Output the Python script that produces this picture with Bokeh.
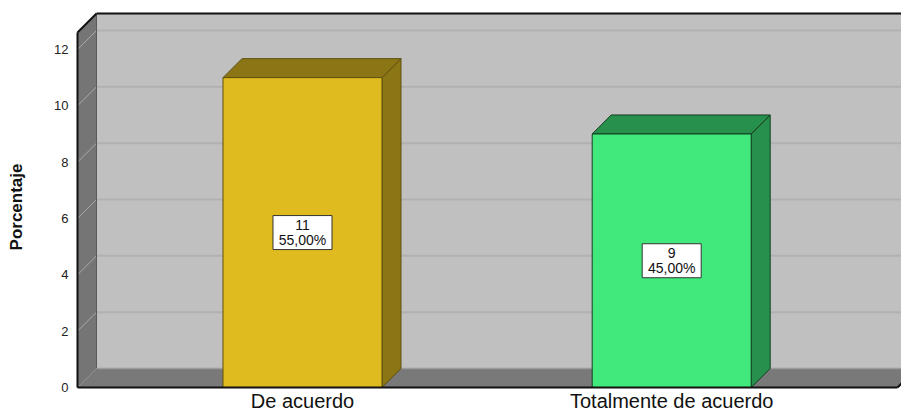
from bokeh.plotting import figure
from bokeh.models import Range1d, FixedTicker
from bokeh.embed import file_html
from bokeh.resources import INLINE
from bokeh.core.properties import value

# ---- data ----
categories = ["De acuerdo", "Totalmente de acuerdo"]
counts = [11, 9]
percents = [55.00, 45.00]
y_ticks = [0, 2, 4, 6, 8, 10, 12]

# ---- style ----
FRONT = ["#E0BB1F", "#41E97D"]
SHADE = ["#8B7514", "#27904D"]
EDGE = ["#5E5010", "#163E22"]
FONT = "Liberation Sans"

W, H = 901, 413
MB_L = 75
frame_w = W - MB_L
frame_h = H
PX_X = 369.2          # pixels per category step
PX_Y = 28.17          # pixels per unit
ZERO_PX = 387         # screen row of value 0 (front plane)
X0 = -0.6094          # left wall front edge (category units)
FLOOR_R = 1.6116      # floor front right edge
WALL_TOP = 12.6
DX = 19 / PX_X
DY = 19 / PX_Y
BAR_W = 159 / PX_X

x_start = X0 - 2 / PX_X
x_end = x_start + frame_w / PX_X
y_start = -(H - ZERO_PX) / PX_Y
y_end = y_start + frame_h / PX_Y

p = figure(width=W, height=H, output_backend="svg", toolbar_location=None,
           x_range=Range1d(x_start, x_end), y_range=Range1d(y_start, y_end),
           x_axis_location=None,
           min_border_left=MB_L, min_border_right=0,
           min_border_top=0, min_border_bottom=0)
p.outline_line_color = None
p.xgrid.visible = False
p.ygrid.visible = False
p.background_fill_color = "white"
p.border_fill_color = "white"

FAR = x_end + 0.2

# back wall
p.quad(left=[X0 + DX], right=[FAR], bottom=[DY], top=[WALL_TOP + DY],
       fill_color="#C0C0C0", line_color=None)
grid_vals = [t for t in y_ticks if t > 0]
p.segment(x0=[X0 + DX] * len(grid_vals), y0=[t + DY for t in grid_vals],
          x1=[FAR] * len(grid_vals), y1=[t + DY for t in grid_vals],
          line_color="#B1B1B1", line_width=2)
p.segment(x0=[X0 + DX], y0=[WALL_TOP + DY], x1=[FAR], y1=[WALL_TOP + DY],
          line_color="#111111", line_width=2)

# left wall
p.patch([X0, X0 + DX, X0 + DX, X0], [0, DY, WALL_TOP + DY, WALL_TOP],
        fill_color="#757575", line_color=None)
p.segment(x0=[X0] * len(y_ticks), y0=y_ticks,
          x1=[X0 + DX] * len(y_ticks), y1=[t + DY for t in y_ticks],
          line_color="#A9A9A9", line_width=1)
p.segment(x0=[X0 + DX], y0=[DY], x1=[X0 + DX], y1=[WALL_TOP + DY],
          line_color="#5A5A5A", line_width=1)

# floor
p.patch([X0, FLOOR_R, FLOOR_R + DX, X0 + DX], [0, 0, DY, DY],
        fill_color="#797979", line_color=None)
p.segment(x0=[X0 + DX], y0=[DY], x1=[FAR], y1=[DY],
          line_color="#9C9C9C", line_width=1.5)

# bars
for i, v in enumerate(counts):
    l, r = i - BAR_W / 2, i + BAR_W / 2
    p.patch([r, r + DX, r + DX, r], [0, DY, v + DY, v],
            fill_color=SHADE[i], line_color=EDGE[i], line_width=1)
    p.patch([l, r, r + DX, l + DX], [v, v, v + DY, v + DY],
            fill_color=SHADE[i], line_color=EDGE[i], line_width=1)
    p.quad(left=[l], right=[r], bottom=[0], top=[v],
           fill_color=FRONT[i], line_color=EDGE[i], line_width=1)

# front edges of the box
p.segment(x0=[X0], y0=[0], x1=[FLOOR_R], y1=[0], line_color="#111111", line_width=2)
p.segment(x0=[FLOOR_R], y0=[0], x1=[FLOOR_R + DX], y1=[DY], line_color="#111111", line_width=2)
p.segment(x0=[X0], y0=[0], x1=[X0], y1=[WALL_TOP], line_color="#111111", line_width=2)
p.segment(x0=[X0], y0=[WALL_TOP], x1=[X0 + DX], y1=[WALL_TOP + DY],
          line_color="#111111", line_width=2)

# value labels
xs = list(range(len(counts)))
mids = [v / 2 for v in counts]
texts = [f"{c}\n{pc:.2f}%".replace(".", ",") for c, pc in zip(counts, percents)]
p.rect(x=xs, y=mids, width=59, height=34, width_units="screen", height_units="screen",
       fill_color="white", line_color="#333333", line_width=1)
p.text(x=xs, y=mids, text=texts, text_font=value(FONT), text_font_size="14px",
       text_align="center", text_baseline="middle", text_line_height=0.95,
       text_color="#111111")

# category labels under the floor
p.text(x=xs, y=[0] * len(xs), text=categories, text_font=value(FONT),
       text_font_size="20px", text_align="center", text_baseline="alphabetic",
       y_offset=13, text_color="#111111")

# y axis
ya = p.yaxis[0]
ya.ticker = FixedTicker(ticks=y_ticks)
ya.axis_line_color = None
ya.major_tick_line_color = None
ya.minor_tick_line_color = None
ya.major_tick_out = 0
ya.major_tick_in = 0
ya.major_label_standoff = 7
ya.major_label_text_font = FONT
ya.major_label_text_font_size = "13px"
ya.major_label_text_color = "#222222"
ya.axis_label = "Porcentaje"
ya.axis_label_text_font = FONT
ya.axis_label_text_font_style = "bold"
ya.axis_label_text_font_size = "17px"
ya.axis_label_text_color = "#111111"
ya.axis_label_standoff = 25

open("out.html", "w").write(file_html(p, INLINE))
